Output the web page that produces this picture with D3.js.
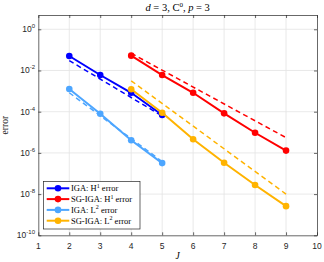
<!DOCTYPE html>
<html>
<head>
<meta charset="utf-8">
<script src="https://cdn.jsdelivr.net/npm/d3@7"></script>
<style>
  body { margin: 0; background: #fff; }
  svg { display: block; }
</style>
</head>
<body>
<div id="chart"></div>
<script>
// grid levels
var J_iga = [2, 3, 4, 5];
var J_sg = [4, 5, 6, 7, 8, 9];
var J_igaRef = [2, 5];
var J_sgRef = [4, 9];

// measured errors
var igaH1 = [0.0506, 0.00605, 8.3e-4, 6.9e-5];
var sgH1 = [0.0525, 0.00603, 8.3e-4, 8.3e-5, 9.5e-6, 1.29e-6];
var igaL2 = [1.26e-3, 7.9e-5, 4.1e-6, 3.2e-7];
var sgL2 = [1.23e-3, 8.9e-5, 4.6e-6, 3.3e-7, 2.75e-8, 2.6e-9];

// reference rates (dashed)
var igaH1Ref = [0.0302, 6.2e-5];
var sgH1Ref = [0.0684, 5.5e-6];
var igaL2Ref = [8.3e-4, 3.8e-7];
var sgL2Ref = [3.16e-3, 1.0e-8];

var xTicks = [1, 2, 3, 4, 5, 6, 7, 8, 9, 10];
var yTickExp = [0, -2, -4, -6, -8, -10];

var series = [
  {name: "IGA: H", sup: "1", J: J_iga, v: igaH1, Jr: J_igaRef, r: igaH1Ref, color: "#0000ff"},
  {name: "SG-IGA: H", sup: "1", J: J_sg, v: sgH1, Jr: J_sgRef, r: sgH1Ref, color: "#ff0000"},
  {name: "IGA: L", sup: "2", J: J_iga, v: igaL2, Jr: J_igaRef, r: igaL2Ref, color: "#4da6ff"},
  {name: "SG-IGA: L", sup: "2", J: J_sg, v: sgL2, Jr: J_sgRef, r: sgL2Ref, color: "#ffb300"}
];

var W = 324, H = 262;
var m = {left: 38.3, right: 317, top: 15, bottom: 235.3};

var svg = d3.select("#chart").append("svg")
  .attr("width", W)
  .attr("height", H);

var x = d3.scaleLinear().domain([1, 10]).range([m.left, m.right]);
var y = d3.scaleLog().domain([1e-10, Math.pow(10, 0.694)]).range([m.bottom, m.top]);

var serif = "'Liberation Serif', 'Times New Roman', serif";
var sans = "'Liberation Sans', Arial, sans-serif";

// grid
var grid = svg.append("g");
grid.selectAll("line.gx")
  .data(xTicks.slice(1, -1))
  .enter().append("line")
  .attr("x1", function(d){ return x(d); })
  .attr("x2", function(d){ return x(d); })
  .attr("y1", m.top).attr("y2", m.bottom)
  .attr("stroke", "#e3e3e3").attr("stroke-width", 0.8);
grid.selectAll("line.gy")
  .data(yTickExp.slice(0, -1))
  .enter().append("line")
  .attr("y1", function(d){ return y(Math.pow(10, d)); })
  .attr("y2", function(d){ return y(Math.pow(10, d)); })
  .attr("x1", m.left).attr("x2", m.right)
  .attr("stroke", "#e3e3e3").attr("stroke-width", 0.8);

// axes with inward ticks on all sides
var tickLen = 3;
var axBottom = d3.axisBottom(x).tickValues(xTicks).tickSizeInner(-tickLen).tickSizeOuter(0).tickFormat("");
var axTop = d3.axisTop(x).tickValues(xTicks).tickSizeInner(-tickLen).tickSizeOuter(0).tickFormat("");
var yVals = yTickExp.map(function(e){ return Math.pow(10, e); });
var axLeft = d3.axisLeft(y).tickValues(yVals).tickSizeInner(-tickLen).tickSizeOuter(0).tickFormat("");
var axRight = d3.axisRight(y).tickValues(yVals).tickSizeInner(-tickLen).tickSizeOuter(0).tickFormat("");

[[axBottom, "translate(0," + m.bottom + ")"],
 [axTop, "translate(0," + m.top + ")"],
 [axLeft, "translate(" + m.left + ",0)"],
 [axRight, "translate(" + m.right + ",0)"]].forEach(function(a){
  var g = svg.append("g").attr("transform", a[1]).call(a[0]);
  g.selectAll("path, line").attr("stroke", "#262626").attr("stroke-width", 0.7);
});

// tick labels
svg.append("g").selectAll("text")
  .data(xTicks)
  .enter().append("text")
  .attr("x", function(d){ return x(d); })
  .attr("y", 248.7)
  .attr("text-anchor", "middle")
  .attr("font-family", sans).attr("font-size", 8.5)
  .attr("fill", "#262626")
  .text(function(d){ return d; });

var yl = svg.append("g").selectAll("text")
  .data(yTickExp)
  .enter().append("text")
  .attr("x", 35)
  .attr("y", function(d){ return y(Math.pow(10, d)) + 3; })
  .attr("text-anchor", "end")
  .attr("font-family", sans).attr("font-size", 8.5)
  .attr("fill", "#262626");
yl.append("tspan").text("10");
yl.append("tspan").attr("dy", -4).attr("font-size", 6).text(function(d){ return d === 0 ? "0" : "-" + (-d); });

// titles
var title = svg.append("text")
  .attr("x", (m.left + m.right) / 2).attr("y", 10.5)
  .attr("text-anchor", "middle")
  .attr("font-family", serif).attr("font-size", 10.5)
  .attr("fill", "#000");
title.append("tspan").attr("font-style", "italic").text("d");
title.append("tspan").text(" = 3, C");
title.append("tspan").attr("dy", -4).attr("font-size", 7).text("0");
title.append("tspan").attr("dy", 4).text(", ");
title.append("tspan").attr("font-style", "italic").text("p");
title.append("tspan").text(" = 3");

svg.append("text")
  .attr("x", (m.left + m.right) / 2).attr("y", 259)
  .attr("text-anchor", "middle")
  .attr("font-family", serif).attr("font-size", 9.5).attr("font-style", "italic")
  .text("J");

svg.append("text")
  .attr("transform", "translate(8," + ((m.top + m.bottom) / 2) + ") rotate(-90)")
  .attr("text-anchor", "middle")
  .attr("font-family", serif).attr("font-size", 9.5)
  .attr("fill", "#262626")
  .text("error");

// data
var line = d3.line()
  .x(function(d){ return x(d[0]); })
  .y(function(d){ return y(d[1]); });

var plot = svg.append("g");
series.forEach(function(s){
  var pts = d3.zip(s.J, s.v);
  plot.append("path")
    .attr("d", line(pts))
    .attr("fill", "none")
    .attr("stroke", s.color)
    .attr("stroke-width", 2);
  plot.selectAll(null)
    .data(pts)
    .enter().append("circle")
    .attr("cx", function(d){ return x(d[0]); })
    .attr("cy", function(d){ return y(d[1]); })
    .attr("r", 3.3)
    .attr("fill", s.color);
  plot.append("path")
    .attr("d", line(d3.zip(s.Jr, s.r)))
    .attr("fill", "none")
    .attr("stroke", s.color)
    .attr("stroke-width", 1.5)
    .attr("stroke-dasharray", "5,3.5");
});

// legend
var lg = svg.append("g");
lg.append("rect")
  .attr("x", 43.5).attr("y", 181.5)
  .attr("width", 96.5).attr("height", 47.5)
  .attr("fill", "#fff")
  .attr("stroke", "#262626").attr("stroke-width", 0.7);
var rows = lg.selectAll("g.row")
  .data(series)
  .enter().append("g")
  .attr("transform", function(d, i){ return "translate(0," + (188.3 + i * 10.8) + ")"; });
rows.append("line")
  .attr("x1", 46.7).attr("x2", 69.3)
  .attr("stroke", function(d){ return d.color; })
  .attr("stroke-width", 2);
rows.append("circle")
  .attr("cx", 58).attr("r", 3.3)
  .attr("fill", function(d){ return d.color; });
var lt = rows.append("text")
  .attr("x", 71).attr("y", 3)
  .attr("font-family", serif).attr("font-size", 8.5)
  .attr("fill", "#000");
lt.append("tspan").text(function(d){ return d.name; });
lt.append("tspan").attr("dy", -3.5).attr("font-size", 6).text(function(d){ return d.sup; });
lt.append("tspan").attr("dy", 3.5).text(" error");
</script>
</body>
</html>
